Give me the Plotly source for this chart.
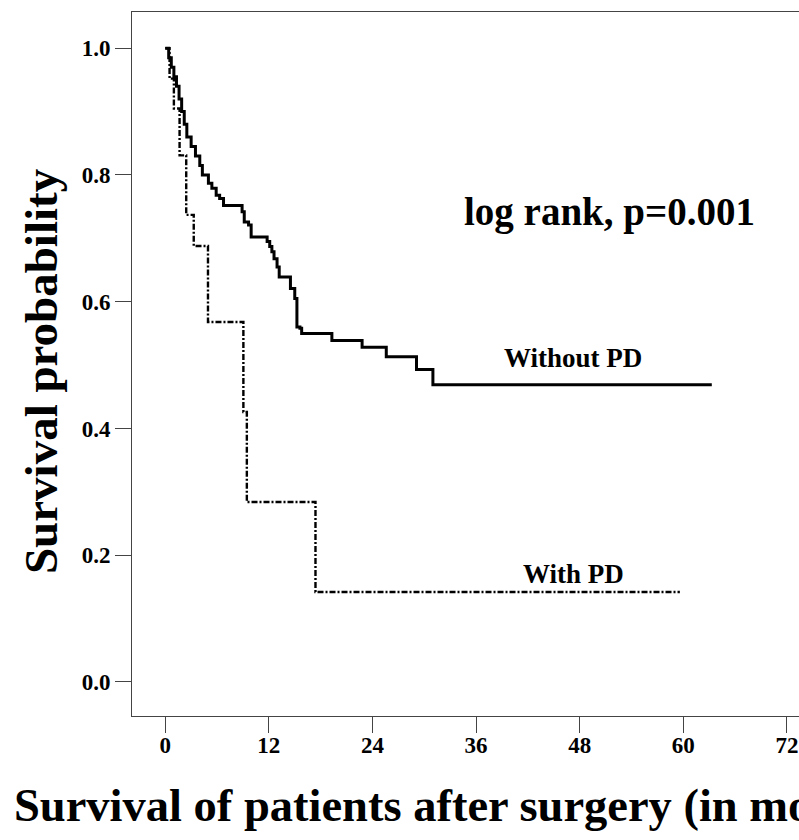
import plotly.graph_objects as go

# ---- data ----
without_pd_months = [0.0, 0.4, 0.7, 1.0, 1.3, 1.6, 1.9, 2.2, 2.5, 3.0, 3.5, 4.0, 4.3,
                     5.0, 5.4, 5.9, 6.3, 6.75, 8.9, 9.15, 9.65, 9.95,
                     11.8, 12.1, 12.35, 12.6, 12.95, 13.2,
                     14.5, 15.0, 15.25, 15.6, 15.8,
                     19.3, 22.8, 25.6, 29.1, 31.0, 63.3]
without_pd_surv = [1.0, 0.985, 0.97, 0.955, 0.94, 0.92, 0.90, 0.88, 0.86, 0.845, 0.83, 0.815, 0.80,
                   0.787, 0.779, 0.768, 0.763, 0.752, 0.742, 0.726, 0.721, 0.702,
                   0.695, 0.687, 0.679, 0.668, 0.655, 0.639,
                   0.621, 0.605, 0.560, 0.558, 0.550,
                   0.539, 0.528, 0.513, 0.493, 0.469, 0.469]

with_pd_months = [0.0, 0.5, 1.0, 1.66, 2.43, 3.3, 4.95, 9.05, 9.45, 17.4, 59.6]
with_pd_surv = [1.0, 0.952, 0.905, 0.831, 0.737, 0.688, 0.568, 0.426, 0.284, 0.142, 0.142]

x_ticks = [0, 12, 24, 36, 48, 60, 72]
y_ticks = [0.0, 0.2, 0.4, 0.6, 0.8, 1.0]
y_tick_text = ["0.0", "0.2", "0.4", "0.6", "0.8", "1.0"]

FONT = "Liberation Serif"

fig = go.Figure()
fig.add_trace(go.Scatter(x=without_pd_months, y=without_pd_surv, mode="lines",
                         line=dict(color="black", width=3, shape="hv"),
                         name="Without PD", showlegend=False))
fig.add_trace(go.Scatter(x=with_pd_months, y=with_pd_surv, mode="lines",
                         line=dict(color="black", width=2.4, shape="hv", dash="6px,2px,2px,2px"),
                         name="With PD", showlegend=False))

fig.update_layout(
    width=799, height=840,
    margin=dict(l=132, r=0, t=12, b=124, autoexpand=False),
    paper_bgcolor="white", plot_bgcolor="white",
    font=dict(family=FONT, color="black"),
    xaxis=dict(range=[-3.85, 73.4], tickvals=x_ticks, ticks="outside", ticklen=16,
               tickcolor="#444", tickwidth=1, showline=True, linecolor="#444", linewidth=1,
               mirror=True, showgrid=False, zeroline=False, automargin=False,
               ticklabelstandoff=-8,
               tickfont=dict(family=FONT, size=23, weight="bold", color="black")),
    yaxis=dict(range=[-0.0537, 1.0572], tickvals=y_ticks, ticktext=y_tick_text,
               ticks="outside", ticklen=16, tickcolor="#444", tickwidth=1,
               showline=True, linecolor="#444", linewidth=1, mirror=False,
               showgrid=False, zeroline=False, automargin=False,
               tickfont=dict(family=FONT, size=23, weight="bold", color="black")),
    annotations=[
        dict(text="log rank, p=0.001", x=51.5, y=0.741, xref="x", yref="y",
             showarrow=False, xanchor="center", yanchor="middle",
             font=dict(family=FONT, size=39, weight="bold", color="black")),
        dict(text="Without PD", x=47.25, y=0.512, xref="x", yref="y",
             showarrow=False, xanchor="center", yanchor="middle",
             font=dict(family=FONT, size=27, weight="bold", color="black")),
        dict(text="With PD", x=47.25, y=0.171, xref="x", yref="y",
             showarrow=False, xanchor="center", yanchor="middle",
             font=dict(family=FONT, size=27, weight="bold", color="black")),
        dict(text="Survival of patients after surgery (in months)", x=-0.18, y=-0.1278,
             xref="paper", yref="paper", showarrow=False, xanchor="left", yanchor="middle",
             font=dict(family=FONT, size=46.5, weight="bold", color="black")),
        dict(text="Survival probability", x=-0.1364, y=0.49, xref="paper", yref="paper",
             showarrow=False, xanchor="center", yanchor="middle", textangle=-90,
             font=dict(family=FONT, size=47, weight="bold", color="black")),
    ],
)

fig.write_html("out.html", config={"displayModeBar": False},
               post_script="document.body.style.margin='0';")
